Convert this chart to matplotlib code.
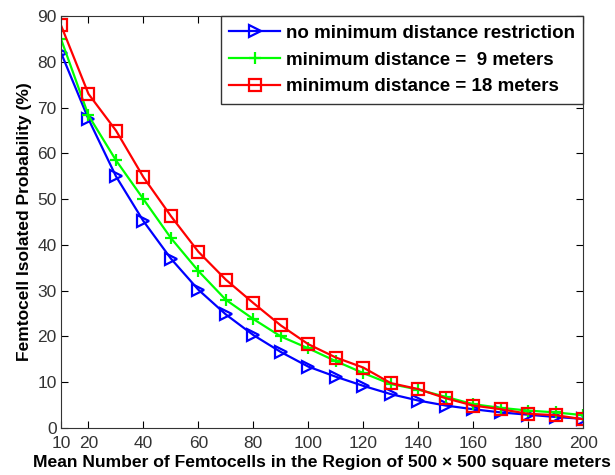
import matplotlib.pyplot as plt
import numpy as np

plt.rcParams["font.family"] = ["Liberation Sans", "DejaVu Sans"]

n_femto = np.arange(10, 201, 10)
p_no_restr = [82, 67.5, 55, 45.2, 37, 30.2, 24.8, 20.3, 16.6, 13.4,
              11.2, 9.2, 7.4, 6.0, 4.9, 4.1, 3.4, 2.9, 2.4, 2.0]
p_min9 = [85, 68.3, 58.5, 50, 41.5, 34.3, 28, 23.8, 20, 17.4,
          14.6, 12.0, 9.6, 8.4, 6.8, 5.2, 4.4, 3.8, 3.4, 2.8]
p_min18 = [88, 73, 65, 54.8, 46.3, 38.5, 32.4, 27.3, 22.4, 18.3,
           15.4, 13.2, 9.8, 8.5, 6.5, 4.9, 4.1, 3.1, 2.8, 1.9]
xticks = [10, 20, 40, 60, 80, 100, 120, 140, 160, 180, 200]

fig = plt.figure(figsize=(6.15, 4.75), dpi=100)
ax = fig.add_axes([0.0992, 0.099, 0.849, 0.867])

ax.plot(n_femto, p_no_restr, "b->", lw=1.6, ms=8, mfc="none", mew=1.6,
        label="no minimum distance restriction")
ax.plot(n_femto, p_min9, "-+", color=(0, 1, 0), lw=1.6, ms=9, mew=1.6,
        label="minimum distance =  9 meters")
ax.plot(n_femto, p_min18, "r-s", lw=1.6, ms=8, mfc="none", mew=1.6,
        label="minimum distance = 18 meters")

ax.set_xlim(10, 200)
ax.set_ylim(0, 90)
ax.set_xticks(xticks)
ax.set_yticks(np.arange(0, 91, 10))
ax.tick_params(direction="in", top=True, right=True, labelsize=12.5,
               labelcolor="#333333", length=5)
ax.tick_params(axis="x", pad=6)
ax.tick_params(axis="y", pad=3)
for s in ax.spines.values():
    s.set_color("#333333")

ax.set_xlabel("Mean Number of Femtocells in the Region of 500 \u00d7 500 square meters",
              fontsize=12.6, fontweight="bold", labelpad=3)
ax.set_ylabel("Femtocell Isolated Probability (%)", fontsize=12.5,
              fontweight="bold", labelpad=4)

leg = ax.legend(loc="upper right", fancybox=False, framealpha=1,
                edgecolor="#333333", prop={"weight": "bold", "size": 13.5},
                borderaxespad=0, handlelength=2.7, handletextpad=0.3,
                labelspacing=0.52, borderpad=0.45)
leg.get_frame().set_linewidth(1)

fig.savefig("out.png", dpi=100)
